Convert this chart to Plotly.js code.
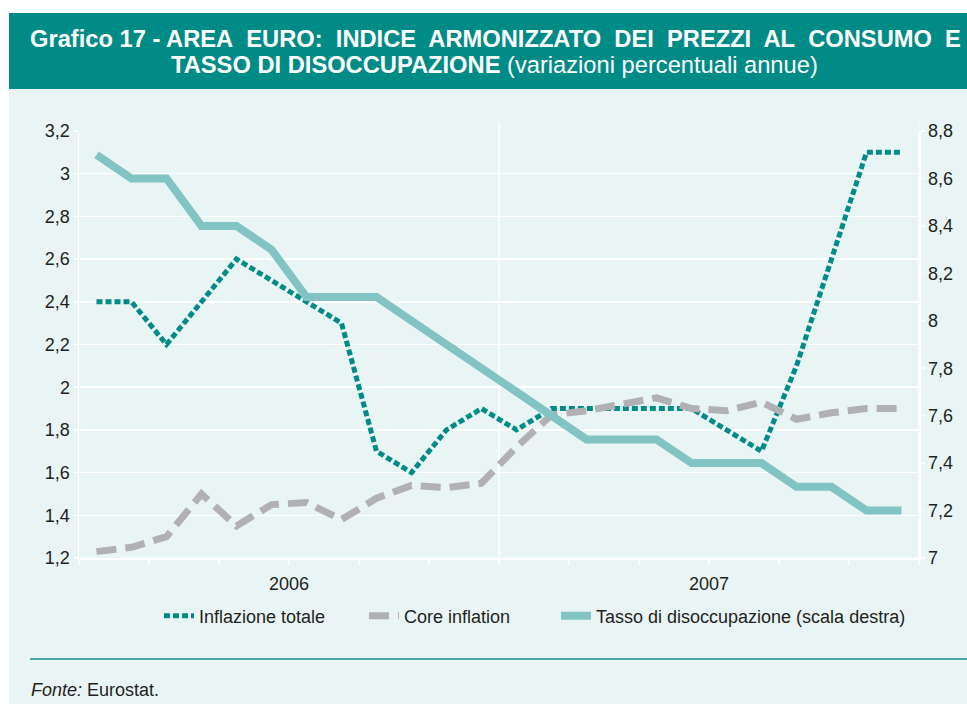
<!DOCTYPE html>
<html>
<head>
<meta charset="utf-8">
<script src="https://cdn.plot.ly/plotly-3.0.1.min.js"></script>
<style>
html,body{margin:0;padding:0;background:#ffffff;}
#chart{width:967px;height:704px;}
</style>
</head>
<body>
<div id="chart"></div>
<script>
// ---- data ----
const months = ['gen 2006','feb 2006','mar 2006','apr 2006','mag 2006','giu 2006','lug 2006','ago 2006','set 2006','ott 2006','nov 2006','dic 2006',
                'gen 2007','feb 2007','mar 2007','apr 2007','mag 2007','giu 2007','lug 2007','ago 2007','set 2007','ott 2007','nov 2007','dic 2007'];
const inflazioneTotale = [2.4,2.4,2.2,2.4,2.6,2.5,2.4,2.3,1.7,1.6,1.8,1.9,1.8,1.9,1.9,1.9,1.9,1.9,1.8,1.7,2.1,2.6,3.1,3.1];
const coreInflation    = [1.23,1.25,1.30,1.50,1.35,1.45,1.46,1.38,1.48,1.54,1.53,1.55,1.72,1.87,1.89,1.92,1.95,1.90,1.89,1.93,1.85,1.88,1.90,1.90];
const disoccupazione   = [8.7,8.6,8.6,8.4,8.4,8.3,8.1,8.1,8.1,8.0,7.9,7.8,7.7,7.6,7.5,7.5,7.5,7.4,7.4,7.4,7.3,7.3,7.2,7.2];
const yearLabels = ['2006','2007'];
const yearCenters = [5.5, 17.5];
const seriesNames = ['Inflazione totale','Core inflation','Tasso di disoccupazione (scala destra)'];

// ---- geometry helpers (pixel -> paper) ----
const W = 967, H = 704;
const M = {l:79, r:48, t:131, b:146};
const PW = W - M.l - M.r, PH = H - M.t - M.b;
const px = x => (x - M.l) / PW;
const py = y => (H - M.b - y) / PH;

const idx = months.map((m, i) => i);
const FONT = 'Liberation Sans, Arial, Helvetica, sans-serif';
const TXT = '#231f20';
const TEAL = '#008b86';
const NB = '\u00a0';

const traces = [
  {x: idx, y: disoccupazione, text: months, yaxis: 'y2', name: seriesNames[2], type: 'scatter', mode: 'lines',
   line: {color: '#82c3c3', width: 8}, legend: 'legend3', hoverinfo: 'text+y'},
  {x: idx, y: inflazioneTotale, text: months, name: seriesNames[0], type: 'scatter', mode: 'lines',
   line: {color: TEAL, width: 5, dash: '6px,3px'}, legend: 'legend', hoverinfo: 'text+y'},
  {x: idx, y: coreInflation, text: months, name: seriesNames[1], type: 'scatter', mode: 'lines',
   line: {color: '#b1b1b5', width: 7, dash: '20px,9px'}, legend: 'legend2', hoverinfo: 'text+y'}
];

const legBase = {orientation: 'h', xanchor: 'left', y: py(616), yanchor: 'middle',
                 bgcolor: 'rgba(0,0,0,0)', font: {size: 18, color: TXT}};

const title1 = 'Grafico 17 - AREA' + NB + ' EURO:' + NB + ' INDICE' + NB + ' ARMONIZZATO' + NB + ' DEI' + NB +
               ' PREZZI' + NB + ' AL' + NB + ' CONSUMO' + NB + ' E';

const layout = {
  width: W, height: H,
  margin: M,
  separators: ',.',
  paper_bgcolor: '#e9f5f5',
  plot_bgcolor: 'rgba(0,0,0,0)',
  font: {family: FONT, size: 18, color: TXT},
  showlegend: true,
  legend: Object.assign({}, legBase, {x: px(159)}),
  legend2: Object.assign({}, legBase, {x: px(364)}),
  legend3: Object.assign({}, legBase, {x: px(556)}),
  xaxis: {
    range: [-0.5, 23.5], tickmode: 'array', tickvals: yearCenters, ticktext: yearLabels,
    ticks: 'outside', ticklen: 5, tickwidth: 1.5, tickcolor: '#ffffff',
    minor: {tick0: -0.5, dtick: 2, ticks: 'outside', ticklen: 5, tickwidth: 1.5, tickcolor: '#ffffff', showgrid: false},
    showgrid: false, zeroline: false, showline: true, linecolor: '#ffffff', linewidth: 1.5,
    tickfont: {size: 18, color: TXT}, ticklabelstandoff: 4, fixedrange: true
  },
  yaxis: {
    range: [1.2, 3.2], tick0: 1.2, dtick: 0.2,
    showgrid: true, gridcolor: '#ffffff', gridwidth: 1.5,
    ticks: 'outside', ticklen: 4, tickcolor: '#ffffff', tickwidth: 1.5,
    showline: true, linecolor: '#ffffff', linewidth: 1.5, zeroline: false,
    tickfont: {size: 18, color: TXT}, fixedrange: true
  },
  yaxis2: {
    overlaying: 'y', side: 'right', range: [7, 8.8], tick0: 7, dtick: 0.2,
    showgrid: false, ticks: 'outside', ticklen: 4, tickcolor: '#ffffff', tickwidth: 1.5,
    showline: true, linecolor: '#ffffff', linewidth: 1.5, zeroline: false,
    tickfont: {size: 18, color: TXT}, fixedrange: true
  },
  shapes: [
    {type: 'rect', xref: 'paper', yref: 'paper', x0: px(0), x1: px(967), y0: py(13), y1: py(0), fillcolor: '#ffffff', line: {width: 0}, layer: 'below'},
    {type: 'rect', xref: 'paper', yref: 'paper', x0: px(0), x1: px(9), y0: py(704), y1: py(0), fillcolor: '#ffffff', line: {width: 0}, layer: 'below'},
    {type: 'rect', xref: 'paper', yref: 'paper', x0: px(9), x1: px(967), y0: py(89), y1: py(13), fillcolor: '#008b86', line: {width: 0}, layer: 'below'},
    {type: 'line', xref: 'paper', yref: 'paper', x0: px(30), x1: px(967), y0: py(659), y1: py(659), line: {color: '#45a6a3', width: 2}},
    {type: 'line', xref: 'x', yref: 'paper', x0: 11.5, x1: 11.5, y0: 0, y1: py(122), line: {color: '#ffffff', width: 1.5}, layer: 'below'},
    {type: 'line', xref: 'x', yref: 'paper', x0: 23.5, x1: 23.5, y0: 0, y1: py(122), line: {color: '#ffffff', width: 1.5}, layer: 'below'}
  ],
  annotations: [
    {text: '<b>' + title1 + '</b>',
     xref: 'paper', yref: 'paper', x: px(495), y: py(39), xanchor: 'center', yanchor: 'middle',
     showarrow: false, font: {family: FONT, size: 23.7, color: '#ffffff'}},
    {text: '<b>TASSO DI DISOCCUPAZIONE</b> (variazioni percentuali annue)',
     xref: 'paper', yref: 'paper', x: px(494), y: py(65), xanchor: 'center', yanchor: 'middle',
     showarrow: false, font: {family: FONT, size: 23.7, color: '#ffffff'}},
    {text: '<i>Fonte:</i> Eurostat.',
     xref: 'paper', yref: 'paper', x: px(29), y: py(690), xanchor: 'left', yanchor: 'middle',
     showarrow: false, font: {family: FONT, size: 18, color: TXT}}
  ]
};

Plotly.newPlot('chart', traces, layout, {displayModeBar: false, staticPlot: true});
</script>
</body>
</html>
